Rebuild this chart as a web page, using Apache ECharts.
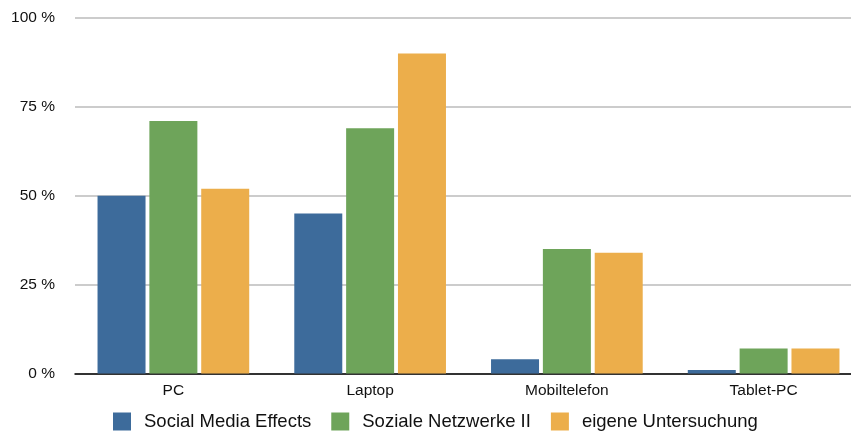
<!DOCTYPE html>
<html>
<head>
<meta charset="utf-8">
<script src="https://cdn.jsdelivr.net/npm/echarts@6/dist/echarts.min.js"></script>
<style>
  html, body { margin: 0; padding: 0; background: #fff; overflow: hidden; }
  /* the plot runs past the right edge in the original, so the canvas is a bit wider than the window */
  #chart { width: 862px; height: 432px; }
</style>
</head>
<body>
<div id="chart"></div>
<script>
const categories = ['PC', 'Laptop', 'Mobiltelefon', 'Tablet-PC'];
const seriesNames = ['Social Media Effects', 'Soziale Netzwerke II', 'eigene Untersuchung'];
const socialMediaEffects = [50, 45, 4, 1];
const sozialeNetzwerke = [71, 69, 35, 7];
const eigeneUntersuchung = [52, 90, 34, 7];
const colors = ['#3d6b9b', '#6ea45a', '#ecae4b'];

const font = 'Helvetica, "Liberation Sans", Arial, sans-serif';

let chart = echarts.init(document.getElementById('chart'));
let values = [socialMediaEffects, sozialeNetzwerke, eigeneUntersuchung];

let option = {
  animation: false,
  color: colors,
  grid: { left: 75, right: 0, top: 18, bottom: 58.5 },
  legend: {
    left: 113,
    top: 412,
    padding: 0,
    itemWidth: 18,
    itemHeight: 18,
    itemGap: 20,
    icon: 'rect',
    textStyle: { fontFamily: font, fontSize: 18.5, lineHeight: 18, color: '#111', padding: [0, 0, 0, 8] },
    data: seriesNames
  },
  xAxis: {
    type: 'category',
    data: categories,
    axisLine: { lineStyle: { color: '#000', width: 1.5 } },
    axisTick: { show: false },
    axisLabel: { fontFamily: font, fontSize: 15.5, color: '#111', margin: 9 }
  },
  yAxis: {
    type: 'value',
    min: 0,
    max: 100,
    interval: 25,
    axisLine: { show: false },
    axisTick: { show: false },
    splitLine: { lineStyle: { color: '#bbb', width: 1.5 } },
    axisLabel: { fontFamily: font, fontSize: 15.5, color: '#111', margin: 20, formatter: '{value} %' }
  },
  series: seriesNames.map((name, i) => ({
    name: name,
    type: 'bar',
    data: values[i],
    barWidth: 48,
    barGap: '8%'
  }))
};

chart.setOption(option);
</script>
</body>
</html>
